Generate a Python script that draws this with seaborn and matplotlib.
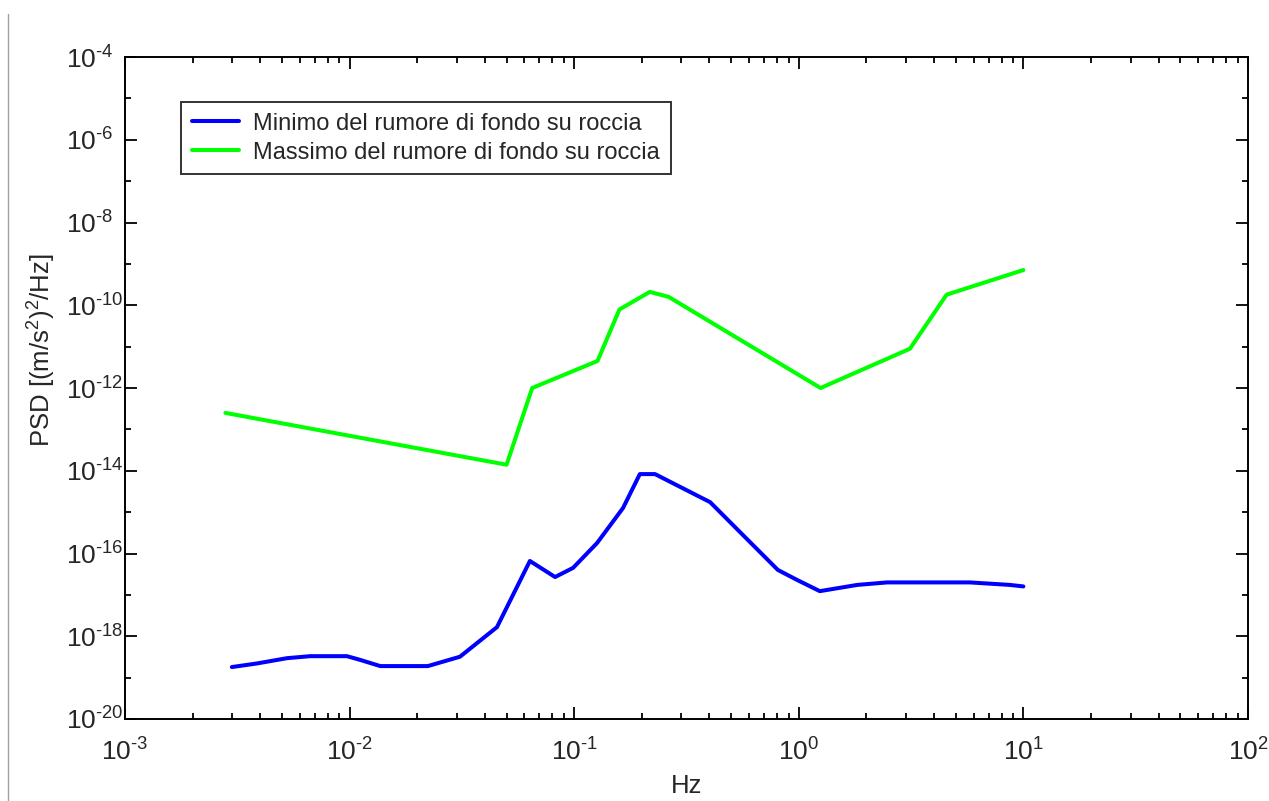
import numpy as np
import pandas as pd
import matplotlib
matplotlib.use('Agg')
import matplotlib.pyplot as plt
import matplotlib.ticker as mticker
from matplotlib.lines import Line2D
import seaborn as sns

# data (frequency in Hz, PSD in (m/s^2)^2/Hz)
freq_min = [0.00299, 0.00387, 0.00526, 0.00667, 0.00973, 0.0111, 0.0137, 0.0223,
            0.0310, 0.0453, 0.0635, 0.0822, 0.0989, 0.1265, 0.165, 0.196, 0.229,
            0.403, 0.547, 0.807, 0.982, 1.24, 1.82, 2.47, 5.78, 8.71, 10.0]
psd_min = [1.8e-19, 2.2e-19, 2.95e-19, 3.3e-19, 3.3e-19, 2.7e-19, 1.9e-19, 1.9e-19,
           3.2e-19, 1.66e-18, 6.6e-17, 2.7e-17, 4.5e-17, 1.8e-16, 1.26e-15, 8.3e-15, 8.3e-15,
           1.74e-15, 3.3e-16, 4.0e-17, 2.3e-17, 1.23e-17, 1.74e-17, 2.0e-17, 2.0e-17, 1.74e-17, 1.6e-17]

freq_max = [0.0028, 0.05, 0.065, 0.127, 0.159, 0.217, 0.263, 1.25, 3.125, 4.55, 10.0]
psd_max = [2.5e-13, 1.4e-14, 1.0e-12, 4.5e-12, 7.9e-11, 2.1e-10, 1.6e-10,
           1.0e-12, 8.9e-12, 1.8e-10, 7.1e-10]

label_min = 'Minimo del rumore di fondo su roccia'
label_max = 'Massimo del rumore di fondo su roccia'

sns.set_style('ticks')
plt.rcParams['font.family'] = ['Liberation Sans', 'DejaVu Sans']
plt.rcParams['mathtext.fontset'] = 'custom'
plt.rcParams['mathtext.rm'] = 'Liberation Sans'
plt.rcParams['mathtext.it'] = 'Liberation Sans:italic'
plt.rcParams['axes.unicode_minus'] = False


def pow10(v, pos):
    # "10^-4" with a plain hyphen, like the original
    e = int(round(np.log10(v)))
    if e < 0:
        return r'$\mathdefault{10^{\text{-}%d}}$' % (-e)
    return r'$\mathdefault{10^{%d}}$' % e


W, H = 1269, 801
fig = plt.figure(figsize=(W / 100, H / 100), dpi=100)
ax = fig.add_axes([125 / W, 1 - 719 / H, 1123 / W, 662 / H])
ax.set(xscale='log', yscale='log')

sns.lineplot(x=freq_min, y=psd_min, color='#0000ff', lw=2.9, label=label_min, ax=ax)
sns.lineplot(x=freq_max, y=psd_max, color='#00ff00', lw=2.9, label=label_max, ax=ax)

ax.set_xlim(1e-3, 1e2)
ax.set_ylim(1e-20, 1e-4)

ax.set_xticks([10.0 ** k for k in range(-3, 3)])
ax.xaxis.set_minor_locator(mticker.LogLocator(base=10, subs=np.arange(2, 10), numticks=50))
ax.xaxis.set_minor_formatter(mticker.NullFormatter())
ax.set_yticks([10.0 ** k for k in range(-20, -3, 2)])
ax.set_yticks([10.0 ** k for k in range(-19, -4, 2)], minor=True)
ax.yaxis.set_minor_formatter(mticker.NullFormatter())
ax.xaxis.set_major_formatter(mticker.FuncFormatter(pow10))
ax.yaxis.set_major_formatter(mticker.FuncFormatter(pow10))

ax.tick_params(which='both', direction='in', top=True, right=True, color='black', width=1.3)
ax.tick_params(which='major', length=8.5, labelsize=19)
ax.tick_params(which='minor', length=4.5)
ax.tick_params(axis='x', which='major', pad=14)
# y labels are left aligned in the original
ax.tick_params(axis='y', which='major', pad=42.5)
plt.setp(ax.get_yticklabels(), ha='left')

for s in ax.spines.values():
    s.set_color('black')
    s.set_linewidth(1.4)

ax.set_xlabel('Hz', fontsize=18.5, labelpad=6)
ax.set_ylabel('PSD [(m/s$^2$)$^2$/Hz]', fontsize=18.5)
ax.yaxis.set_label_coords(-0.060, 0.557)

leg = ax.legend(loc='upper left', bbox_to_anchor=(0.05, 0.932), borderaxespad=0,
                fontsize=17, frameon=True, fancybox=False, edgecolor='black',
                handlelength=2.0, handletextpad=0.6, labelspacing=0.3, borderpad=0.45)
leg.get_frame().set_linewidth(1.4)

# thin grey border at the left edge of the picture
fig.add_artist(Line2D([8 / W, 8 / W], [0, 1 - 14 / H], color='#a0a0a0', lw=1))

fig.savefig('out.png', dpi=100, facecolor='white')
